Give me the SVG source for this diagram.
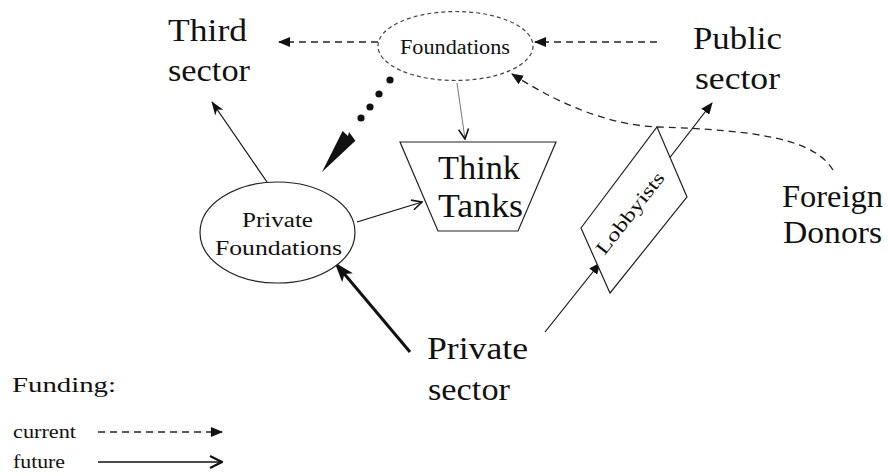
<svg xmlns="http://www.w3.org/2000/svg" width="888" height="476" viewBox="0 0 888 476">
<style>
text{font-family:"Liberation Serif","Times New Roman",serif;fill:#111}
.big{font-size:31px}
.mid{font-size:20px}
.sm{font-size:18px}
.ln{stroke:#111;stroke-width:1.2;fill:none}
.dash{stroke:#222;stroke-width:1.3;fill:none;stroke-dasharray:7,5}
.shape{fill:#fff;stroke:#222;stroke-width:1.2}
</style>
<defs>
<marker id="tri" viewBox="0 0 12 10" refX="11" refY="5" markerWidth="12" markerHeight="10" markerUnits="userSpaceOnUse" orient="auto"><path d="M0,0 L12,5 L0,10 z" fill="#111"/></marker>
<marker id="notch" viewBox="0 0 14 10" refX="13" refY="5" markerWidth="14" markerHeight="10" markerUnits="userSpaceOnUse" orient="auto"><path d="M0,0 L14,5 L0,10 L4,5 z" fill="#111"/></marker>
<marker id="notchBig" viewBox="0 0 20 14" refX="18" refY="7" markerWidth="20" markerHeight="14" markerUnits="userSpaceOnUse" orient="auto"><path d="M0,0 L20,7 L0,14 L5,7 z" fill="#111"/></marker>
<marker id="vopen" viewBox="0 0 12 12" refX="11" refY="6" markerWidth="12" markerHeight="12" markerUnits="userSpaceOnUse" orient="auto"><path d="M1,1 L11,6 L1,11" fill="none" stroke="#111" stroke-width="1.6"/></marker>
<marker id="vopenThick" viewBox="0 0 14 14" refX="13" refY="7" markerWidth="14" markerHeight="14" markerUnits="userSpaceOnUse" orient="auto"><path d="M1,1 L13,7 L1,13" fill="none" stroke="#111" stroke-width="2.2"/></marker>
</defs>

<g id="connectors">
  <!-- Public sector -> Foundations -->
  <line class="dash" x1="657" y1="42" x2="535" y2="42" marker-end="url(#tri)"/>
  <!-- Foundations -> Third sector -->
  <line class="dash" x1="378" y1="42" x2="279" y2="42" marker-end="url(#tri)"/>
  <!-- Foreign Donors -> Foundations -->
  <path class="dash" d="M833,170 C815,140 760,130 657,127 C610,125 560,105 512,74" stroke-dasharray="5,4" marker-end="url(#tri)"/>
  <!-- Foundations -> Think Tanks (thin) -->
  <line x1="457" y1="83" x2="465" y2="139" stroke="#777" stroke-width="1" marker-end="url(#vopen)"/>
  <!-- Foundations -> Private Foundations (dotted, future) -->
  <g fill="#111">
    <circle cx="390" cy="80" r="3.6"/>
    <circle cx="379" cy="94" r="3.6"/>
    <circle cx="370" cy="107" r="3.6"/>
    <circle cx="361" cy="118" r="3.6"/>
    <polygon points="322,172 342.6,131 348,136 349,132 355.4,140.7"/>
  </g>
  <!-- Private Foundations -> Third sector -->
  <line class="ln" x1="267" y1="182" x2="212" y2="102" marker-end="url(#notch)"/>
  <!-- Private Foundations -> Think Tanks -->
  <line class="ln" x1="357" y1="222" x2="422" y2="202" marker-end="url(#vopen)"/>
  <!-- Private sector -> Private Foundations (thick) -->
  <line x1="410" y1="352" x2="336" y2="264" stroke="#111" stroke-width="3" marker-end="url(#notchBig)"/>
  <!-- Private sector -> Lobbyists -> Public sector -->
  <line class="ln" x1="545" y1="332" x2="600" y2="263" marker-end="url(#tri)"/>
  <line class="ln" x1="668" y1="160" x2="712" y2="103" marker-end="url(#tri)"/>
</g>

<g id="third-sector">
  <text class="big" x="168" y="41" textLength="79" lengthAdjust="spacingAndGlyphs">Third</text>
  <text class="big" x="168" y="81" textLength="82" lengthAdjust="spacingAndGlyphs">sector</text>
</g>

<g id="foundations">
  <ellipse cx="455.5" cy="46" rx="77.5" ry="34.5" fill="none" stroke="#444" stroke-width="1.2" stroke-dasharray="4,3"/>
  <text x="400" y="54" font-size="20" textLength="110" lengthAdjust="spacingAndGlyphs">Foundations</text>
</g>

<g id="public-sector">
  <text class="big" x="693" y="49" textLength="89" lengthAdjust="spacingAndGlyphs">Public</text>
  <text class="big" x="695" y="89" textLength="85" lengthAdjust="spacingAndGlyphs">sector</text>
</g>

<g id="think-tanks">
  <polygon class="shape" points="400,142 556,142 518,231 438,231"/>
  <text x="438" y="179" font-size="33" textLength="82" lengthAdjust="spacingAndGlyphs">Think</text>
  <text x="438" y="217" font-size="33" textLength="85" lengthAdjust="spacingAndGlyphs">Tanks</text>
</g>

<g id="private-foundations">
  <ellipse class="shape" cx="277.5" cy="232.5" rx="77.5" ry="50.5"/>
  <text class="mid" x="242" y="227" textLength="71" lengthAdjust="spacingAndGlyphs">Private</text>
  <text class="mid" x="215" y="255" textLength="127" lengthAdjust="spacingAndGlyphs">Foundations</text>
</g>

<g id="lobbyists">
  <polygon class="shape" points="657,127 687,197 610,293 581,228"/>
  <text transform="translate(635,217) rotate(-52)" text-anchor="middle" font-size="19" textLength="99" lengthAdjust="spacingAndGlyphs">Lobbyists</text>
</g>

<g id="foreign-donors">
  <text class="big" x="782" y="207" textLength="101" lengthAdjust="spacingAndGlyphs">Foreign</text>
  <text class="big" x="783" y="243" textLength="99" lengthAdjust="spacingAndGlyphs">Donors</text>
</g>

<g id="private-sector">
  <text class="big" x="427" y="359" textLength="101" lengthAdjust="spacingAndGlyphs">Private</text>
  <text class="big" x="428" y="400" textLength="82" lengthAdjust="spacingAndGlyphs">sector</text>
</g>

<g id="legend">
  <text x="12" y="392" font-size="22" textLength="104" lengthAdjust="spacingAndGlyphs">Funding:</text>
  <text class="sm" x="13" y="438" textLength="63" lengthAdjust="spacingAndGlyphs">current</text>
  <text class="sm" x="13" y="468" textLength="52" lengthAdjust="spacingAndGlyphs">future</text>
  <line class="dash" x1="98" y1="432" x2="222" y2="432" stroke-dasharray="6,4" marker-end="url(#tri)"/>
  <line x1="98" y1="462" x2="222" y2="462" stroke="#111" stroke-width="1.6" marker-end="url(#vopenThick)"/>
</g>
</svg>
